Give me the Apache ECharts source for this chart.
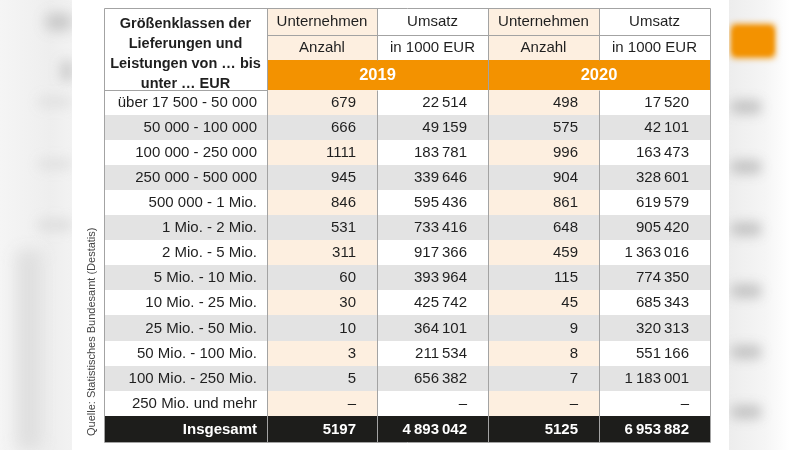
<!DOCTYPE html>
<html><head><meta charset="utf-8">
<script src="https://cdn.jsdelivr.net/npm/echarts@6/dist/echarts.min.js"></script>
<style>html,body{margin:0;padding:0;background:#fff}#c{width:800px;height:450px}</style>
</head><body><div id="c"></div><script>
// ---- data ----
const sizeClasses = ['über 17 500 - 50 000','50 000 - 100 000','100 000 - 250 000','250 000 - 500 000','500 000 - 1 Mio.','1 Mio. - 2 Mio.','2 Mio. - 5 Mio.','5 Mio. - 10 Mio.','10 Mio. - 25 Mio.','25 Mio. - 50 Mio.','50 Mio. - 100 Mio.','100 Mio. - 250 Mio.','250 Mio. und mehr'];
const unternehmen2019 = [679,666,1111,945,846,531,311,60,30,10,3,5,null];
const umsatz2019 = [22514,49159,183781,339646,595436,733416,917366,393964,425742,364101,211534,656382,null];
const unternehmen2020 = [498,575,996,904,861,648,459,115,45,9,8,7,null];
const umsatz2020 = [17520,42101,163473,328601,619579,905420,1363016,774350,685343,320313,551166,1183001,null];
const totalLabel = 'Insgesamt';
const totals2019 = [5197,4893042];
const totals2020 = [5125,6953882];
const years = ['2019','2020'];
const headerLine1 = ['Unternehmen','Umsatz'];
const headerLine2 = ['Anzahl','in 1000 EUR'];
const stubHeader = 'Größenklassen der\nLieferungen und\nLeistungen von … bis\nunter … EUR';
const sourceText = 'Quelle: Statistisches Bundesamt (Destatis)';

// ---- layout ----
const FONT = '"Liberation Sans", Arial, Helvetica, sans-serif';
const xEdges = [0,163,273,384,495,606];
const yEdges = [0,27,51.5,81.5];
for (let i=1;i<=13;i++) yEdges.push(81.5+25.1*i);
yEdges.push(434);
const COL = {cream:'#fdefe0', gray:'#e3e3e3', white:'#ffffff', orange:'#f39200', black:'#1d1d1b', text:'#1f1f1f', line:'#a3a3a3'};

function fmt(v){
  if (v===null || v===undefined) return '–';
  if (v < 10000) return String(v);
  const s = String(v); const parts=[]; let e=s.length;
  while(e>0){parts.unshift(s.slice(Math.max(0,e-3),e)); e-=3;}
  return parts.join('\u2009');
}

const cells = [];
function cell(c0,c1,r0,r1,text,o){ cells.push(Object.assign({c0,c1,r0,r1,text},o)); }
cell(0,1,0,3,stubHeader,{bg:COL.white,bold:true,align:'center',lh:20,dy:4.5,size:14.5});
for (let k=0;k<2;k++){
  const b=1+2*k;
  cell(b,b+1,0,1,headerLine1[0],{bg:COL.cream,align:'center'});
  cell(b+1,b+2,0,1,headerLine1[1],{bg:COL.white,align:'center'});
  cell(b,b+1,1,2,headerLine2[0],{bg:COL.cream,align:'center'});
  cell(b+1,b+2,1,2,headerLine2[1],{bg:COL.white,align:'center'});
  cell(b,b+2,2,3,years[k],{bg:COL.orange,align:'center',bold:true,size:16.5,color:'#ffffff'});
}
const cols = [unternehmen2019,umsatz2019,unternehmen2020,umsatz2020];
sizeClasses.forEach((lab,i)=>{
  const r=3+i, odd=(i%2===1);
  cell(0,1,r,r+1,lab,{bg:odd?COL.gray:COL.white,align:'right',pad:10});
  cols.forEach((arr,j)=>{
    const bg = odd?COL.gray:(j%2===0?COL.cream:COL.white);
    cell(1+j,2+j,r,r+1,fmt(arr[i]),{bg,align:'right',pad:21});
  });
});
const tr=16;
cell(0,1,tr,tr+1,totalLabel,{bg:COL.black,align:'right',pad:10,bold:true,color:'#fff'});
[totals2019[0],totals2019[1],totals2020[0],totals2020[1]].forEach((v,j)=>{
  cell(1+j,2+j,tr,tr+1,fmt(v),{bg:COL.black,align:'right',pad:21,bold:true,color:'#fff'});
});

const cellData = cells.map(c=>[xEdges[c.c0],yEdges[c.r0],xEdges[c.c1],yEdges[c.r1]]);

// grid lines
const lines = [];
[1,2,3,4].forEach(k=>{
  if (k===2||k===4){
    lines.push([xEdges[k],yEdges[0],xEdges[k],yEdges[2]]);
    lines.push([xEdges[k],yEdges[3],xEdges[k],yEdges[yEdges.length-1]]);
  } else lines.push([xEdges[k],yEdges[0],xEdges[k],yEdges[yEdges.length-1]]);
});
lines.push([xEdges[1],yEdges[1],xEdges[5],yEdges[1]]);
lines.push([xEdges[0],yEdges[3],xEdges[1],yEdges[3]]);
lines.push([xEdges[0],yEdges[0],xEdges[5],yEdges[0]]);
lines.push([xEdges[0],yEdges[17],xEdges[5],yEdges[17]]);
lines.push([xEdges[0],yEdges[0],xEdges[0],yEdges[17]]);
lines.push([xEdges[5],yEdges[0],xEdges[5],yEdges[17]]);

const chart = echarts.init(document.getElementById('c'),null,{renderer:'canvas'});

// blurred decorative background shapes (only the blurred shadow is visible)
function blob(x,y,w,h,c,b){return {type:'rect',shape:{x:x-3000,y,width:w,height:h,r:4},style:{fill:c,shadowBlur:b,shadowColor:c,shadowOffsetX:3000},silent:true};}

chart.setOption({
  animation:false,
  backgroundColor:'#ffffff',
  grid:{left:104,top:8,width:606,height:434},
  xAxis:{type:'value',min:0,max:606,show:false},
  yAxis:{type:'value',min:0,max:434,inverse:true,show:false},
  graphic:[
    {type:'rect',shape:{x:0,y:0,width:72,height:450},style:{fill:{type:'linear',x:0,y:0,x2:1,y2:0,colorStops:[{offset:0,color:'#f5f5f5'},{offset:0.7,color:'#eeeeee'},{offset:1,color:'#f2f2f2'}]}},silent:true},
    blob(46,14,26,16,'rgba(185,185,185,0.9)',14),
    blob(60,60,14,22,'rgba(200,200,200,0.9)',12),
    blob(38,96,34,12,'rgba(222,222,222,0.9)',12),
    blob(38,158,34,12,'rgba(222,222,222,0.9)',12),
    blob(38,218,34,14,'rgba(220,220,220,0.9)',12),
    blob(16,250,26,200,'rgba(212,212,212,0.8)',16),
    {type:'rect',shape:{x:729,y:0,width:60,height:450},style:{fill:{type:'linear',x:0,y:0,x2:1,y2:0,colorStops:[{offset:0,color:'#ededed'},{offset:0.6,color:'#f5f5f5'},{offset:1,color:'#ffffff'}]}},silent:true},
    blob(731,24,44,34,'#f39200',6),
    blob(733,28,40,26,'#f39200',4),
    blob(731,100,30,14,'rgba(185,185,185,0.9)',12),
    blob(731,160,30,14,'rgba(185,185,185,0.9)',12),
    blob(731,222,30,14,'rgba(185,185,185,0.9)',12),
    blob(731,284,30,14,'rgba(185,185,185,0.9)',12),
    blob(731,345,30,14,'rgba(185,185,185,0.9)',12),
    blob(731,405,30,14,'rgba(185,185,185,0.9)',12),
    {type:'rect',shape:{x:72,y:0,width:28,height:450},style:{fill:'#ffffff'},silent:true},
    {type:'rect',shape:{x:713,y:0,width:16,height:450},style:{fill:'#ffffff'},silent:true},
    {type:'text',x:92,y:436,rotation:Math.PI/2,style:{text:sourceText,fill:'#444',fontSize:11,fontFamily:FONT,align:'left',verticalAlign:'middle'},silent:true}
  ],
  series:[
    {type:'custom',coordinateSystem:'cartesian2d',clip:false,silent:true,
     encode:{x:[0,2],y:[1,3]},
     data:cellData,
     renderItem:function(params,api){
       const c = cells[params.dataIndex];
       const p0 = api.coord([api.value(0),api.value(1)]);
       const p1 = api.coord([api.value(2),api.value(3)]);
       const x=Math.round(p0[0]), y=Math.round(p0[1]), w=Math.round(p1[0])-x, h=Math.round(p1[1])-y;
       let tx = c.align==='right' ? x+w-(c.pad||0) : x+w/2;
       return {type:'group',children:[
         {type:'rect',shape:{x,y,width:w,height:h},style:{fill:c.bg}},
         {type:'text',style:{x:tx,y:y+h/2+(c.dy||0)+0.5,text:c.text,fill:c.color||COL.text,
           fontSize:c.size||15,fontFamily:FONT,fontWeight:c.bold?'bold':'normal',
           align:c.align,verticalAlign:'middle',lineHeight:c.lh||18}}
       ]};
     }
    },
    {type:'custom',coordinateSystem:'cartesian2d',clip:false,silent:true,
     encode:{x:[0,2],y:[1,3]},
     data:lines,
     renderItem:function(params,api){
       const p0 = api.coord([api.value(0),api.value(1)]);
       const p1 = api.coord([api.value(2),api.value(3)]);
       const x1=Math.round(p0[0])+0.5, y1=Math.round(p0[1])+0.5, x2=Math.round(p1[0])+0.5, y2=Math.round(p1[1])+0.5;
       return {type:'line',shape:{x1,y1,x2,y2},style:{stroke:COL.line,lineWidth:1}};
     }
    }
  ]
});
</script></body></html>
